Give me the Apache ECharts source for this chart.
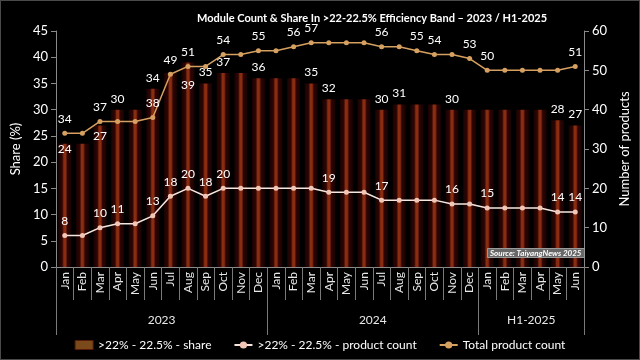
<!DOCTYPE html>
<html>
<head>
<meta charset="utf-8">
<script src="https://cdn.jsdelivr.net/npm/echarts@6/dist/echarts.min.js"></script>
<style>
html,body{margin:0;padding:0;background:#000;}
#wrap{width:640px;height:360px;box-sizing:border-box;border:1px solid #4a4a4a;background:#000;}
#chart{width:638px;height:358px;}
</style>
</head>
<body>
<div id="wrap"><div id="chart"></div></div>
<script>
var months = ['Jan','Feb','Mar','Apr','May','Jun','Jul','Aug','Sep','Oct','Nov','Dec',
              'Jan','Feb','Mar','Apr','May','Jun','Jul','Aug','Sep','Oct','Nov','Dec',
              'Jan','Feb','Mar','Apr','May','Jun'];
var yearLabels = ['2023','2024','H1-2025'];
var yearMonthCounts = [12,12,6];

var share = [23.5,23.5,27,30,30,34,37,39,35,37,37,36,36,36,35,32,32,32,30,31,31,31,30,30,30,30,30,30,28,27];
var productCount = [8,8,10,11,11,13,18,20,18,20,20,20,20,20,20,19,19,19,17,17,17,17,16,16,15,15,15,15,14,14];
var totalCount = [34,34,37,37,37,38,49,51,51,54,54,55,55,56,57,57,57,57,56,56,55,54,54,53,50,50,50,50,50,51];

var shareLabelIdx = [0,2,3,5,7,8,9,11,14,15,18,19,22,28,29];
var countLabelIdx = [0,2,3,5,6,7,8,9,15,18,22,24,28,29];
var totalLabelIdx = [0,2,5,6,7,9,11,13,14,18,20,21,23,24,29];

var shareLabelOffset = {0:[0,16], 2:[0,22], 7:[0,34]};

var FONT = 'Lato';

var yearTicks = [0], yearCenters = [];
(function(){var acc=0; yearMonthCounts.forEach(function(c){yearCenters.push(acc+c/2); acc+=c; yearTicks.push(acc);});})();

var barGrad = new echarts.graphic.LinearGradient(0,0,1,0,[
  {offset:0,color:'#180202'},{offset:0.3,color:'#2e0605'},
  {offset:0.43,color:'#8a2c10'},{offset:0.57,color:'#8a2c10'},
  {offset:0.7,color:'#2e0605'},{offset:1,color:'#180202'}]);

var chart = echarts.init(document.getElementById('chart'));
var labelBase = {color:'#fff', fontSize:12, fontFamily:FONT};

chart.setOption({
  backgroundColor:'#000',
  animation:false,
  title:[{
    text:'Module Count & Share In >22-22.5% Efficiency Band \u2013 2023 / H1-2025',
    left:191, top:7,
    textStyle:{color:'#fff', fontSize:11, fontWeight:'bold', fontFamily:FONT}
  },{
    text:'Source: TaiyangNews 2025',
    left:486, top:247,
    backgroundColor:'#686868', borderColor:'#9a9a9a', borderWidth:1, padding:[1,3],
    textStyle:{color:'#fff', fontSize:8, fontWeight:'bold', fontStyle:'italic', fontFamily:FONT}
  }],
  grid:{left:53, right:48, top:30, bottom:92, containLabel:false},
  legend:{
    bottom:3, left:'center', itemGap:22, itemWidth:18, itemHeight:9,
    textStyle:{color:'#fff', fontSize:12, fontFamily:FONT},
    data:[
      {name:'>22% - 22.5% - share', icon:'rect', itemStyle:{color:'#7a4a1a', borderColor:'#5a1a0a', borderWidth:1}},
      {name:'>22% - 22.5% - product count'},
      {name:'Total product count'}
    ]
  },
  xAxis:[{
    type:'category', data:months, position:'bottom',
    axisLine:{show:true, lineStyle:{color:'#8a8a8a'}},
    axisTick:{show:true, interval:0, length:33, lineStyle:{color:'#7a7a7a'}},
    axisLabel:{rotate:90, interval:0, margin:5, color:'#e8e8e8', fontSize:12, fontFamily:FONT},
    splitLine:{show:false}
  },{
    type:'value', min:0, max:30, position:'bottom',
    axisLine:{show:false},
    axisTick:{show:true, customValues:yearTicks, length:68, lineStyle:{color:'#7a7a7a'}},
    axisLabel:{customValues:yearCenters, margin:47, color:'#e8e8e8', fontSize:12, fontFamily:FONT,
      formatter:function(v){var i=yearCenters.indexOf(v); return i>=0?yearLabels[i]:'';}},
    splitLine:{show:false}
  }],
  yAxis:[{
    type:'value', min:0, max:45, interval:5, position:'left',
    name:'Share (%)', nameLocation:'middle', nameGap:31, nameRotate:90,
    nameTextStyle:{color:'#fff', fontSize:13, fontFamily:FONT},
    axisLine:{show:true, lineStyle:{color:'#8a8a8a'}},
    axisTick:{show:true, length:5, lineStyle:{color:'#8a8a8a'}},
    axisLabel:{color:'#fff', fontSize:13, fontFamily:FONT, margin:8},
    splitLine:{show:false}
  },{
    type:'value', min:0, max:60, interval:10, position:'right',
    name:'Number of products', nameLocation:'middle', nameGap:30, nameRotate:90,
    nameTextStyle:{color:'#fff', fontSize:13, fontFamily:FONT},
    axisLine:{show:true, lineStyle:{color:'#8a8a8a'}},
    axisTick:{show:true, length:5, lineStyle:{color:'#8a8a8a'}},
    axisLabel:{color:'#fff', fontSize:13, fontFamily:FONT, margin:8},
    splitLine:{show:false}
  }],
  series:[{
    name:'>22% - 22.5% - share', type:'bar', xAxisIndex:0, yAxisIndex:0,
    barWidth:13,
    itemStyle:{color:barGrad},
    z:1,
    data:share.map(function(v,i){
      var show = shareLabelIdx.indexOf(i)>=0;
      return {value:v, label:{show:show, position:'top', distance:5,
        offset:shareLabelOffset[i]||[0,0],
        formatter:function(p){return Math.round(p.value);}}};
    }),
    label:labelBase
  },{
    name:'>22% - 22.5% - product count', type:'line', xAxisIndex:0, yAxisIndex:1,
    symbol:'circle', symbolSize:5, z:3,
    lineStyle:{color:'#f6e6de', width:1.5},
    itemStyle:{color:'#f2c6b6'},
    label:labelBase,
    data:productCount.map(function(v,i){
      return {value:v, label:{show:countLabelIdx.indexOf(i)>=0, position:'top', distance:6}};
    })
  },{
    name:'Total product count', type:'line', xAxisIndex:0, yAxisIndex:1,
    symbol:'circle', symbolSize:5, z:3,
    lineStyle:{color:'#d6a060', width:1.5},
    itemStyle:{color:'#d6a060'},
    label:labelBase,
    data:totalCount.map(function(v,i){
      return {value:v, label:{show:totalLabelIdx.indexOf(i)>=0, position:'top', distance:6}};
    })
  }]
});
</script>
</body>
</html>
